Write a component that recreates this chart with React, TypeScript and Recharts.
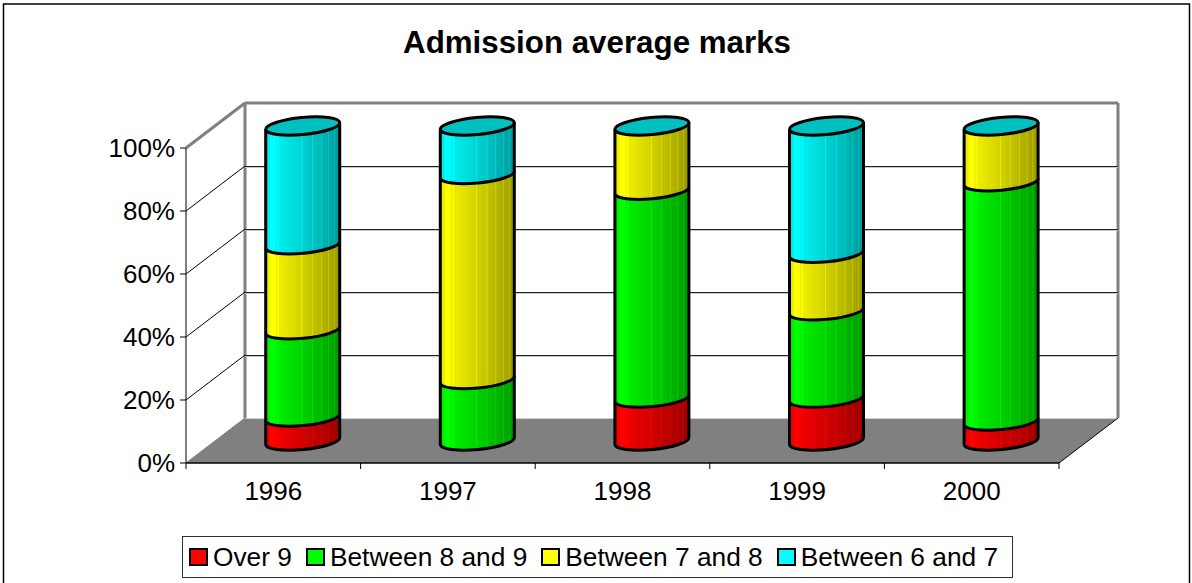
import { BarChart, Bar, XAxis, YAxis, Legend } from 'recharts';

const years = ['1996', '1997', '1998', '1999', '2000'];
const over9 = [7.6, 0, 13.6, 13.6, 6.3];
const between8and9 = [27.7, 19.5, 66, 27.7, 76];
const between7and8 = [27, 65.1, 20.4, 18.3, 17.7];
const between6and7 = [37.7, 15.4, 0, 40.4, 0];
const yTicks = [0, 20, 40, 60, 80, 100];

const data = years.map((year, i) => ({
  year,
  over9: over9[i],
  between8and9: between8and9[i],
  between7and8: between7and8[i],
  between6and7: between6and7[i],
}));

const series = [
  { key: 'over9', name: 'Over 9', color: [255, 0, 0] },
  { key: 'between8and9', name: 'Between 8 and 9', color: [0, 255, 0] },
  { key: 'between7and8', name: 'Between 7 and 8', color: [255, 255, 0] },
  { key: 'between6and7', name: 'Between 6 and 7', color: [0, 255, 255] },
];

const WIDTH = 1192;
const HEIGHT = 583;
const FONT = '"Liberation Sans", Arial, sans-serif';

// front plane of the 3d box
const LEFT = 186;
const RIGHT = 1059;
const TOP = 148;
const BOTTOM = 463;
// how far the back wall is shifted from the front plane
const DX = 59;
const DY = -45;
// bars stand in the middle of the floor
const BAR_DX = 29.7;
const BAR_DY = -22;
const TILT = 3.5;
const RY = 8.5;

const hex = (c: number[]) => `rgb(${c.join(',')})`;

// horizontal shading with the thin light stripes of the original
const shade: [number, number][] = [
  [0, 0.86], [0.06, 0.96], [0.065, 1], [0.13, 1], [0.14, 0.96], [0.165, 0.94], [0.17, 1], [0.178, 1], [0.185, 0.93],
  [0.48, 0.83], [0.485, 0.92], [0.495, 0.92], [0.5, 0.82], [0.62, 0.77], [0.625, 0.85], [0.635, 0.85], [0.64, 0.76],
  [0.74, 0.72], [0.745, 0.8], [0.755, 0.8], [0.76, 0.71], [0.84, 0.68], [0.845, 0.76], [0.855, 0.76], [0.86, 0.67],
  [0.92, 0.64], [0.925, 0.72], [0.935, 0.72], [0.94, 0.63], [1, 0.58],
];

const Gradients = () => (
  <defs>
    {series.map((s) => (
      <linearGradient key={s.key} id={`grad-${s.key}`} x1="0" y1="0" x2="1" y2="0">
        {shade.map(([offset, k]) => (
          <stop key={offset} offset={offset} stopColor={hex(s.color.map((v) => Math.round(v * k)))} />
        ))}
      </linearGradient>
    ))}
  </defs>
);

const Walls = () => {
  const wallLines = yTicks.slice(0, -1).slice(1);
  const yOf = (t: number) => BOTTOM - ((BOTTOM - TOP) * t) / 100;
  return (
    <g>
      <polygon
        points={`${LEFT},${BOTTOM} ${RIGHT},${BOTTOM} ${RIGHT + DX},${BOTTOM + DY} ${LEFT + DX},${BOTTOM + DY}`}
        fill="#808080"
      />
      <line x1={LEFT + DX} y1={BOTTOM + DY} x2={LEFT + DX} y2={TOP + DY} stroke="#808080" strokeWidth={3} />
      <line x1={LEFT + DX} y1={TOP + DY} x2={RIGHT + DX} y2={TOP + DY} stroke="#808080" strokeWidth={3} />
      <line x1={RIGHT + DX} y1={TOP + DY} x2={RIGHT + DX} y2={BOTTOM + DY} stroke="#808080" strokeWidth={3} />
      <line x1={LEFT} y1={TOP} x2={LEFT + DX} y2={TOP + DY} stroke="#808080" strokeWidth={3} />
      <line x1={LEFT + DX} y1={BOTTOM + DY + 0.5} x2={RIGHT + DX} y2={BOTTOM + DY + 0.5} stroke="#d0d0d0" />
      {wallLines.map((t) => (
        <g key={t}>
          <line x1={LEFT} y1={yOf(t)} x2={LEFT + DX} y2={yOf(t) + DY} stroke="#000" />
          <line x1={LEFT + DX} y1={yOf(t) + DY + 1.5} x2={RIGHT + DX} y2={yOf(t) + DY + 1.5} stroke="#c8c8c8" />
          <line x1={LEFT + DX} y1={yOf(t) + DY + 0.5} x2={RIGHT + DX} y2={yOf(t) + DY + 0.5} stroke="#202020" />
        </g>
      ))}
      <line x1={LEFT} y1={BOTTOM} x2={LEFT + DX} y2={BOTTOM + DY} stroke="#808080" />
      <line x1={RIGHT} y1={BOTTOM} x2={RIGHT + DX} y2={BOTTOM + DY} stroke="#000" />
    </g>
  );
};

const Cylinder = (props: any) => {
  const { x, y, width, height, seriesKey } = props;
  const cx = x + width / 2 + BAR_DX;
  const half = width / 2;
  const rx = Math.sqrt(half * half + TILT * TILT);
  const rot = (-Math.atan(TILT / half) * 180) / Math.PI;
  const top = y + BAR_DY;
  const bottom = y + height + BAR_DY;
  const l = cx - half;
  const r = cx + half;
  const arc = `A${rx} ${RY} ${rot} 0 0 ${r} ${bottom - TILT}`;
  const isTop = seriesKey === 'between6and7';
  return (
    <g>
      {height > 0 && (
        <>
          <path
            d={`M${l} ${top + TILT} L${l} ${bottom + TILT} ${arc} L${r} ${top - TILT} Z`}
            fill={`url(#grad-${seriesKey})`}
          />
          <path
            d={`M${l} ${top + TILT} L${l} ${bottom + TILT} ${arc} L${r} ${top - TILT}`}
            fill="none"
            stroke="#000"
            strokeWidth={3}
            strokeLinejoin="round"
          />
        </>
      )}
      {isTop && (
        <ellipse
          cx={cx}
          cy={top}
          rx={rx}
          ry={RY}
          transform={`rotate(${rot} ${cx} ${top})`}
          fill="#00c0c0"
          stroke="#000"
          strokeWidth={3}
        />
      )}
    </g>
  );
};

const YearTick = (props: any) => {
  const { x, index, payload } = props;
  const band = (RIGHT - LEFT) / years.length;
  return (
    <g>
      <line x1={x - band / 2} y1={BOTTOM} x2={x - band / 2} y2={BOTTOM + 6} stroke="#000" />
      {index === years.length - 1 && <line x1={x + band / 2} y1={BOTTOM} x2={x + band / 2} y2={BOTTOM + 6} stroke="#000" />}
      <text x={x} y={BOTTOM + 37} textAnchor="middle" fontSize={26} fontFamily={FONT} fill="#000">
        {payload.value}
      </text>
    </g>
  );
};

const LegendBox = (props: any) => (
  <div
    style={{
      boxSizing: 'border-box',
      width: 831,
      height: 42,
      border: '1px solid #303030',
      background: '#fff',
      display: 'flex',
      alignItems: 'center',
      paddingLeft: 6,
      fontFamily: FONT,
      fontSize: 26.3,
      color: '#000',
      whiteSpace: 'nowrap',
    }}
  >
    {(props.payload || []).map((entry: any) => (
      <div key={entry.value} style={{ display: 'flex', alignItems: 'center', marginRight: 14 }}>
        <span
          style={{
            boxSizing: 'border-box',
            display: 'inline-block',
            width: 19,
            height: 18,
            border: '2px solid #000',
            background: entry.color,
            marginRight: 5,
          }}
        />
        {entry.value}
      </div>
    ))}
  </div>
);

export default function App() {
  return (
    <div style={{ position: 'absolute', left: 0, top: 0, width: WIDTH, height: HEIGHT, overflow: 'hidden', background: '#fff' }}>
      <BarChart
        width={WIDTH}
        height={HEIGHT}
        data={data}
        margin={{ top: TOP, right: WIDTH - RIGHT, bottom: 0, left: 0 }}
        barCategoryGap={0}
        barSize={74}
      >
        <Gradients />
        <rect x={3.5} y={4} width={1186} height={620} fill="#fff" stroke="#000" strokeWidth={1.5} />
        <text x={597} y={52.5} textAnchor="middle" fontSize={31.3} fontWeight="bold" fontFamily={FONT} fill="#000">
          Admission average marks
        </text>
        <Walls />
        <XAxis
          dataKey="year"
          axisLine={{ stroke: '#000', strokeWidth: 1.5 }}
          tickLine={false}
          tick={<YearTick />}
          interval={0}
          height={HEIGHT - BOTTOM}
        />
        <YAxis
          domain={[0, 100]}
          ticks={yTicks}
          width={LEFT}
          tickFormatter={(v: number) => `${v}%`}
          axisLine={{ stroke: '#000' }}
          tickLine={{ stroke: '#000' }}
          tickSize={6}
          tickMargin={5}
          tick={{ fontSize: 26, fontFamily: FONT, fill: '#000' }}
        />
        <Legend
          content={<LegendBox />}
          layout="horizontal"
          verticalAlign="middle"
          itemSorter={null}
          wrapperStyle={{ left: 182, top: 536, width: 831, height: 42 }}
        />
        {series.map((s) => (
          <Bar
            key={s.key}
            dataKey={s.key}
            name={s.name}
            stackId="marks"
            fill={hex(s.color)}
            isAnimationActive={false}
            shape={(p: any) => <Cylinder {...p} seriesKey={s.key} />}
          />
        ))}
      </BarChart>
    </div>
  );
}
